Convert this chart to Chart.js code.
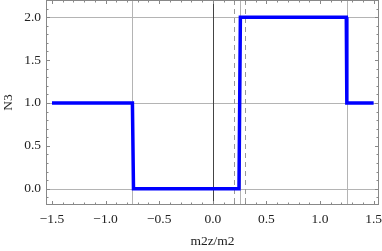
<!DOCTYPE html>
<html>
<head>
<meta charset="utf-8">
<script src="https://cdn.jsdelivr.net/npm/chart.js@4/dist/chart.umd.min.js"></script>
<style>
  html, body { margin: 0; padding: 0; background: #fff; }
  #wrap { width: 382px; height: 251px; }
</style>
</head>
<body>
<div id="wrap"><canvas id="stepChart"></canvas></div>
<script>
// Step data N3 vs m2z/m2
const stepX = [-1.5, -0.75, -0.74, 0.244, 0.257, 1.245, 1.25, 1.5];
const stepY = [1, 1, 0, 0, 2, 2, 1, 1];

const xTicks = [-1.5, -1.0, -0.5, 0.0, 0.5, 1.0, 1.5];
const yTicks = [0.0, 0.5, 1.0, 1.5, 2.0];

// reference lines
const gridX = [-0.75, 0.25, 1.25];
const gridY = [0, 1, 2];
const axisX = [0];
const dashedX = [0.2, 0.3];

const points = stepX.map((x, i) => ({ x: x, y: stepY[i] }));

function fmt(v) {
    return (v < 0 ? '\u2212' : '') + Math.abs(v).toFixed(1);
}

// frame, grid lines and inside ticks like the original plot
const framePlugin = {
    id: 'frame',
    beforeDatasetsDraw(chart) {
        const ctx = chart.ctx;
        const a = chart.chartArea;
        const xs = chart.scales.x;
        const ys = chart.scales.y;
        ctx.save();
        ctx.lineWidth = 1;

        ctx.strokeStyle = '#b4b4b4';
        gridX.forEach(v => {
            const px = Math.round(xs.getPixelForValue(v)) + 0.5;
            ctx.beginPath(); ctx.moveTo(px, a.top); ctx.lineTo(px, a.bottom); ctx.stroke();
        });
        gridY.forEach(v => {
            const py = Math.round(ys.getPixelForValue(v)) + 0.5;
            ctx.beginPath(); ctx.moveTo(a.left, py); ctx.lineTo(a.right, py); ctx.stroke();
        });

        ctx.strokeStyle = '#444';
        axisX.forEach(v => {
            const px = Math.round(xs.getPixelForValue(v)) + 0.5;
            ctx.beginPath(); ctx.moveTo(px, a.top); ctx.lineTo(px, a.bottom); ctx.stroke();
        });

        ctx.strokeStyle = '#999';
        ctx.setLineDash([5, 4]);
        dashedX.forEach(v => {
            const px = Math.round(xs.getPixelForValue(v)) + 0.5;
            ctx.beginPath(); ctx.moveTo(px, a.top); ctx.lineTo(px, a.bottom); ctx.stroke();
        });
        ctx.setLineDash([]);

        // ticks on all four sides
        ctx.strokeStyle = '#888';
        for (let i = -15; i <= 15; i++) {
            const v = i / 10;
            const len = (i % 5 === 0) ? 4 : 2.5;
            const px = Math.round(xs.getPixelForValue(v)) + 0.5;
            ctx.beginPath();
            ctx.moveTo(px, a.bottom); ctx.lineTo(px, a.bottom - len);
            ctx.moveTo(px, a.top); ctx.lineTo(px, a.top + len);
            ctx.stroke();
        }
        for (let i = -1; i <= 22; i++) {
            const v = i / 10;
            const len = (i % 5 === 0) ? 4 : 2.5;
            const py = Math.round(ys.getPixelForValue(v)) + 0.5;
            ctx.beginPath();
            ctx.moveTo(a.left, py); ctx.lineTo(a.left + len, py);
            ctx.moveTo(a.right, py); ctx.lineTo(a.right - len, py);
            ctx.stroke();
        }

        ctx.strokeStyle = '#888';
        ctx.strokeRect(Math.round(a.left) + 0.5, Math.round(a.top) + 0.5,
            Math.round(a.right - a.left) - 1, Math.round(a.bottom - a.top) - 1);
        ctx.restore();
    }
};

const font = { family: '"Liberation Serif", "DejaVu Serif", serif', size: 13.5 };

new Chart(document.getElementById('stepChart'), {
    type: 'scatter',
    data: {
        datasets: [{
            data: points,
            showLine: true,
            borderColor: '#0000ff',
            borderWidth: 3.5,
            pointRadius: 0,
            tension: 0,
            fill: false
        }]
    },
    options: {
        responsive: true,
        maintainAspectRatio: false,
        animation: false,
        layout: { padding: { top: 0, right: 3, left: 0, bottom: 0 } },
        plugins: {
            legend: { display: false },
            tooltip: { enabled: false }
        },
        scales: {
            x: {
                type: 'linear',
                min: -1.556,
                max: 1.55,
                grid: { display: false, drawTicks: false },
                border: { display: false },
                afterBuildTicks: s => { s.ticks = xTicks.map(v => ({ value: v })); },
                afterFit: s => { s.height = 46; s.paddingLeft = 0; s.paddingRight = 0; },
                ticks: {
                    padding: 6,
                    color: '#222',
                    font: font,
                    maxRotation: 0,
                    autoSkip: false,
                    callback: v => fmt(v)
                },
                title: {
                    display: true,
                    text: 'm2z/m2',
                    color: '#222',
                    font: font,
                    padding: { top: 0, bottom: 1 }
                }
            },
            y: {
                type: 'linear',
                min: -0.19,
                max: 2.2,
                grid: { display: false, drawTicks: false },
                border: { display: false },
                afterBuildTicks: s => { s.ticks = yTicks.map(v => ({ value: v })); },
                afterFit: s => { s.width = 46; s.paddingTop = 0; s.paddingBottom = 0; },
                ticks: {
                    padding: 5,
                    color: '#222',
                    font: font,
                    callback: v => fmt(v)
                },
                title: {
                    display: true,
                    text: 'N3',
                    color: '#222',
                    font: font,
                    padding: { top: 0, bottom: 0 }
                }
            }
        }
    },
    plugins: [framePlugin]
});
</script>
</body>
</html>
